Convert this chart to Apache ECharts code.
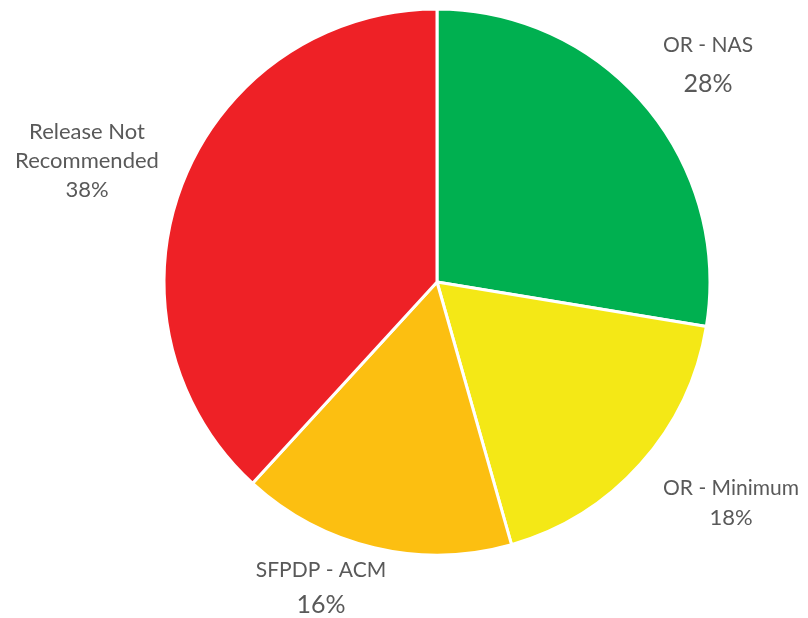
<!DOCTYPE html>
<html><head><meta charset="utf-8">
<script src="https://cdn.jsdelivr.net/npm/echarts@6/dist/echarts.min.js"></script>
<style>html,body{margin:0;padding:0;background:#fff}#c{width:808px;height:618px}</style>
</head><body><div id="c"></div>
<script>
const categories = ['OR - NAS', 'OR - Minimum', 'SFPDP - ACM', 'Release Not Recommended'];
const values = [27.6, 18.0, 16.2, 38.2];
const colors = ['#00B050', '#F4E816', '#FCBF11', '#EE2126'];

// label layout (style only)
const labelCenters = [[708, 65], [731, 503], [321, 588], [87, 161]];
const labelStyles = [
  {n: 21, p: 25, lh1: 38, lh2: 40},
  {n: 21, p: 22, lh1: 29, lh2: 29},
  {n: 21, p: 25, lh1: 34, lh2: 36},
  {n: 22, p: 22, lh1: 29, lh2: 29}
];
const font = 'Lato, "Open Sans", sans-serif';

const chart = echarts.init(document.getElementById('c'));
const data = categories.map((c, i) => ({
  name: c, value: values[i],
  itemStyle: {color: colors[i]},
  label: {
    rich: {
      n: {fontSize: labelStyles[i].n, lineHeight: labelStyles[i].lh1, color: '#595959', fontFamily: font, align: 'center'},
      p: {fontSize: labelStyles[i].p, lineHeight: labelStyles[i].lh2, color: '#595959', fontFamily: font, align: 'center'}
    }
  }
}));
chart.setOption({
  animation: false,
  series: [{
    type: 'pie',
    center: [437, 282],
    radius: 273,
    startAngle: 90,
    clockwise: true,
    data: data,
    itemStyle: {borderColor: '#fff', borderWidth: 3},
    label: {
      show: true,
      position: 'outside',
      overflow: 'none',
      width: 300,
      formatter: p => {
        const lines = p.name === 'Release Not Recommended' ? 'Release Not}\n{n|Recommended' : p.name;
        return '{n|' + lines + '}\n{p|' + Math.round(p.percent) + '%}';
      }
    },
    labelLine: {show: false},
    labelLayout: params => ({
      x: labelCenters[params.dataIndex][0],
      y: labelCenters[params.dataIndex][1],
      align: 'center',
      verticalAlign: 'middle'
    })
  }]
});
</script></body></html>
